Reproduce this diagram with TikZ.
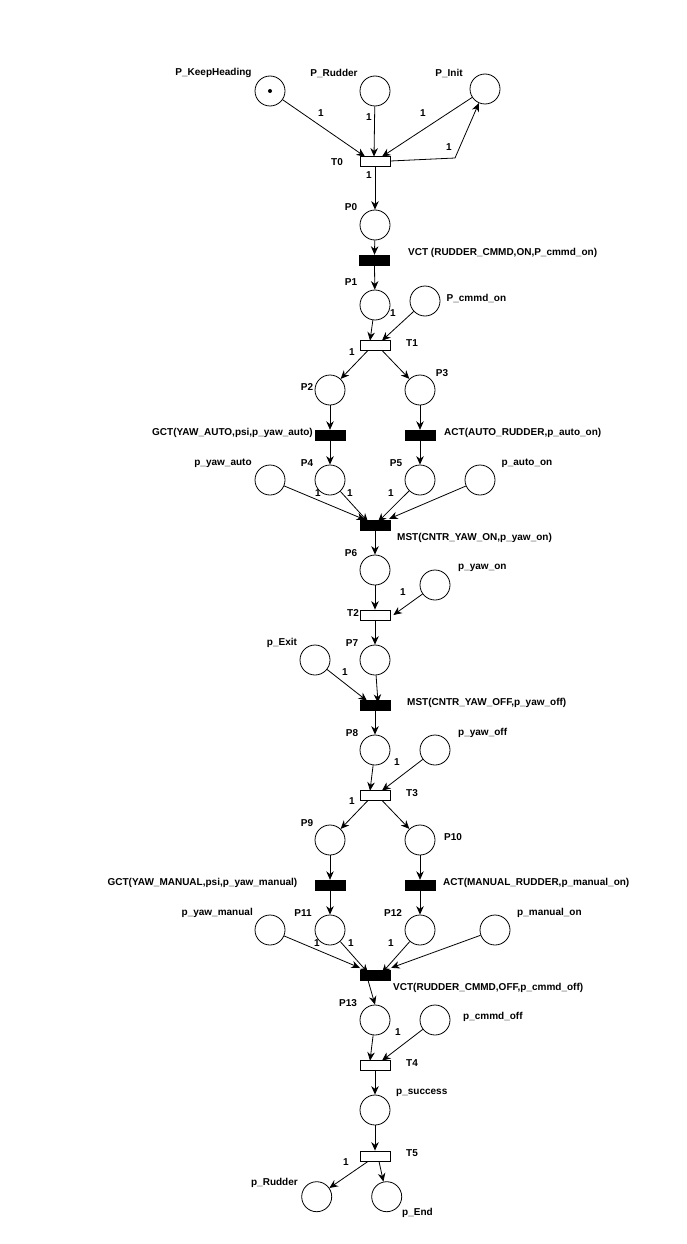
\documentclass[tikz,border=0pt]{standalone}
\usepackage{fontspec}
\setmainfont{Liberation Sans}
\usetikzlibrary{arrows.meta}
\begin{document}
\begin{tikzpicture}[x=1pt,y=-1pt,
  place/.style={draw,circle,line width=0.8pt,minimum size=30pt,inner sep=0pt},
  trans/.style={draw,rectangle,line width=0.8pt,minimum width=30pt,minimum height=10pt,inner sep=0pt,fill=white},
  btrans/.style={draw,rectangle,minimum width=30pt,minimum height=10pt,inner sep=0pt,fill=black},
  lbl/.style={inner sep=0pt,font=\fontsize{10}{12}\selectfont\bfseries},
  wt/.style={inner sep=0pt,font=\fontsize{10}{12}\selectfont\bfseries},
  arc/.style={line width=0.8pt,-{Stealth[length=8.5pt,width=7.5pt]}}]
\useasboundingbox (0,0) rectangle (687,1244);
% places
\node[place] (KH) at (270,91) {};
\fill (KH.center) circle (2pt);
\node[place] (PR) at (375,91) {};
\node[place] (PI) at (485,89) {};
\node[place] (P0) at (375,225) {};
\node[place] (P1) at (375,305) {};
\node[place] (PCON) at (425,301) {};
\node[place] (P2) at (330,390) {};
\node[place] (P3) at (420,390) {};
\node[place] (P4) at (330,480) {};
\node[place] (P5) at (420,480) {};
\node[place] (PYA) at (270,480) {};
\node[place] (PAO) at (480,480) {};
\node[place] (P6) at (375,570) {};
\node[place] (PYO) at (435,585) {};
\node[place] (P7) at (375,660) {};
\node[place] (PEX) at (315,660) {};
\node[place] (P8) at (375,750) {};
\node[place] (PYF) at (435,750) {};
\node[place] (P9) at (330,840) {};
\node[place] (P10) at (420,840) {};
\node[place] (P11) at (330,930) {};
\node[place] (P12) at (420,930) {};
\node[place] (PYM) at (270,930) {};
\node[place] (PMO) at (495,930) {};
\node[place] (P13) at (375,1020) {};
\node[place] (PCF) at (435,1020) {};
\node[place] (PS) at (375,1110) {};
\node[place] (PRD) at (316.7,1196.7) {};
\node[place] (PE) at (386.7,1196.7) {};
% transitions
\node[trans] (T0) at (375,161) {};
\node[btrans] (V1) at (374.5,260) {};
\node[trans] (T1) at (375,345) {};
\node[btrans] (G1) at (330,435) {};
\node[btrans] (A1) at (420,435) {};
\node[btrans] (M1) at (375,525) {};
\node[trans] (T2) at (375,615) {};
\node[btrans] (M2) at (375,705) {};
\node[trans] (T3) at (375,795) {};
\node[btrans] (G2) at (330,885) {};
\node[btrans] (A2) at (420,885) {};
\node[btrans] (V2) at (375,975) {};
\node[trans] (T4) at (375,1065) {};
\node[trans] (T5) at (375,1156) {};
% labels
\node[lbl] (lKH) at (213.5,73) {P\_KeepHeading};
\node[lbl] (lPR) at (334,73) {P\_Rudder};
\node[lbl] (lPI) at (449,73) {P\_Init};
\node[lbl] (lT0) at (337,162) {T0};
\node[lbl] (lP0) at (351,207) {P0};
\node[lbl,anchor=west] (lV1) at (408,253) {VCT (RUDDER\_CMMD,ON,P\_cmmd\_on)};
\node[lbl] (lP1) at (351,282) {P1};
\node[lbl,anchor=west] (lPCON) at (446.5,298) {P\_cmmd\_on};
\node[lbl] (lT1) at (412,343) {T1};
\node[lbl] (lP2) at (307,387) {P2};
\node[lbl] (lP3) at (442,373) {P3};
\node[lbl,anchor=east] (lG1) at (313,433) {GCT(YAW\_AUTO,psi,p\_yaw\_auto)};
\node[lbl,anchor=west] (lA1) at (444,433) {ACT(AUTO\_RUDDER,p\_auto\_on)};
\node[lbl] (lP4) at (307,463) {P4};
\node[lbl] (lP5) at (396,463) {P5};
\node[lbl] (lPYA) at (223,463) {p\_yaw\_auto};
\node[lbl] (lPAO) at (527,463) {p\_auto\_on};
\node[lbl,anchor=west] (lM1) at (397,538) {MST(CNTR\_YAW\_ON,p\_yaw\_on)};
\node[lbl] (lP6) at (351,553) {P6};
\node[lbl,anchor=west] (lPYO) at (458,568) {p\_yaw\_on};
\node[lbl] (lT2) at (353,613) {T2};
\node[lbl] (lP7) at (352,643) {P7};
\node[lbl] (lPEX) at (282,643) {p\_Exit};
\node[lbl,anchor=west] (lM2) at (407,703) {MST(CNTR\_YAW\_OFF,p\_yaw\_off)};
\node[lbl] (lP8) at (352,733) {P8};
\node[lbl,anchor=west] (lPYF) at (458,733) {p\_yaw\_off};
\node[lbl] (lT3) at (412,793) {T3};
\node[lbl] (lP9) at (307,823) {P9};
\node[lbl] (lP10) at (453,837) {P10};
\node[lbl,anchor=east] (lG2) at (297.5,883) {GCT(YAW\_MANUAL,psi,p\_yaw\_manual)};
\node[lbl,anchor=west] (lA2) at (443,883) {ACT(MANUAL\_RUDDER,p\_manual\_on)};
\node[lbl] (lP11) at (303,913) {P11};
\node[lbl] (lP12) at (393,913) {P12};
\node[lbl,anchor=east] (lPYM) at (253,913) {p\_yaw\_manual};
\node[lbl,anchor=west] (lPMO) at (517,913) {p\_manual\_on};
\node[lbl,anchor=west] (lV2) at (393,988) {VCT(RUDDER\_CMMD,OFF,p\_cmmd\_off)};
\node[lbl] (lP13) at (348,1003) {P13};
\node[lbl,anchor=west] (lPCF) at (463,1017) {p\_cmmd\_off};
\node[lbl] (lT4) at (412,1063) {T4};
\node[lbl,anchor=west] (lPS) at (396,1093) {p\_success};
\node[lbl] (lT5) at (412,1153) {T5};
\node[lbl,anchor=east] (lPRD) at (298,1183) {p\_Rudder};
\node[lbl,anchor=west] (lPE) at (402,1213) {p\_End};
% weights
\node[wt] (w1) at (321,113) {1};
\node[wt] (w2) at (369,117) {1};
\node[wt] (w3) at (423,113) {1};
\node[wt] (w4) at (449,147) {1};
\node[wt] (w5) at (369,175) {1};
\node[wt] (w6) at (393,313) {1};
\node[wt] (w7) at (352,352) {1};
\node[wt] (w8) at (318,493) {1};
\node[wt] (w9) at (350,493) {1};
\node[wt] (w10) at (391,493) {1};
\node[wt] (w11) at (403,592) {1};
\node[wt] (w12) at (345,672) {1};
\node[wt] (w13) at (397,762) {1};
\node[wt] (w14) at (352,801) {1};
\node[wt] (w15) at (317,943) {1};
\node[wt] (w16) at (351,943) {1};
\node[wt] (w17) at (391,943) {1};
\node[wt] (w18) at (398,1032) {1};
\node[wt] (w19) at (346,1162) {1};
% arcs
\coordinate (c0) at (455,158);
\draw[arc] (KH) -- ([xshift=-10pt,yshift=-1pt]T0.north);
\draw[arc] (PR) -- ([xshift=-1pt,yshift=-1pt]T0.north);
\draw[arc] (PI) -- ([xshift=7pt,yshift=-1pt]T0.north);
\draw[arc] (T0.east) -- (c0) -- (PI);
\draw[arc] (T0.south) -- (P0);
\draw[arc] (P0) -- (V1.north);
\draw[arc] (V1.south) -- (P1);
\draw[arc] (P1) -- ([xshift=-5pt,yshift=-1pt]T1.north);
\draw[arc] (PCON) -- ([xshift=7pt,yshift=-1pt]T1.north);
\draw[arc] ([xshift=-7pt]T1.south) -- (P2);
\draw[arc] ([xshift=7pt]T1.south) -- (P3);
\draw[arc] (P2) -- (G1.north);
\draw[arc] (G1.south) -- (P4);
\draw[arc] (P3) -- (A1.north);
\draw[arc] (A1.south) -- (P5);
\draw[arc] (PYA) -- ([xshift=-10pt]M1.north);
\draw[arc] (P4) -- ([xshift=-7pt,yshift=-2pt]M1.north);
\draw[arc] (P5) -- ([xshift=3pt,yshift=-2pt]M1.north);
\draw[arc] (PAO) -- ([xshift=-1pt,yshift=1pt]M1.north east);
\draw[arc] (M1.south) -- (P6);
\draw[arc] (P6) -- (T2.north);
\draw[arc] (PYO) -- ([xshift=3pt]T2.east);
\draw[arc] (T2.south) -- (P7);
\draw[arc] (PEX) -- ([xshift=-8pt,yshift=-1pt]M2.north);
\draw[arc] (P7) -- ([xshift=3pt,yshift=-3pt]M2.north);
\draw[arc] (M2.south) -- (P8);
\draw[arc] (P8) -- ([xshift=-5pt,yshift=-1pt]T3.north);
\draw[arc] (PYF) -- ([xshift=7pt,yshift=-1pt]T3.north);
\draw[arc] ([xshift=-7pt]T3.south) -- (P9);
\draw[arc] ([xshift=7pt]T3.south) -- (P10);
\draw[arc] (P9) -- (G2.north);
\draw[arc] (G2.south) -- (P11);
\draw[arc] (P10) -- (A2.north);
\draw[arc] (A2.south) -- (P12);
\draw[arc] (PYM) -- ([yshift=2pt]V2.north west);
\draw[arc] (P11) -- ([xshift=-7pt,yshift=-3pt]V2.north);
\draw[arc] (P12) -- ([xshift=7pt,yshift=-3pt]V2.north);
\draw[arc] (PMO) -- ([xshift=1pt,yshift=2pt]V2.north east);
\draw[arc] ([xshift=-7pt]V2.south) -- (P13.north);
\draw[arc] (P13) -- ([xshift=-5pt,yshift=-1pt]T4.north);
\draw[arc] (PCF) -- ([xshift=7pt,yshift=-1pt]T4.north);
\draw[arc] (T4.south) -- (PS);
\draw[arc] (PS) -- (T5.north);
\draw[arc] ([xshift=-7pt]T5.south) -- (PRD);
\draw[arc] ([xshift=4pt]T5.south) -- (PE);
\end{tikzpicture}
\end{document}
